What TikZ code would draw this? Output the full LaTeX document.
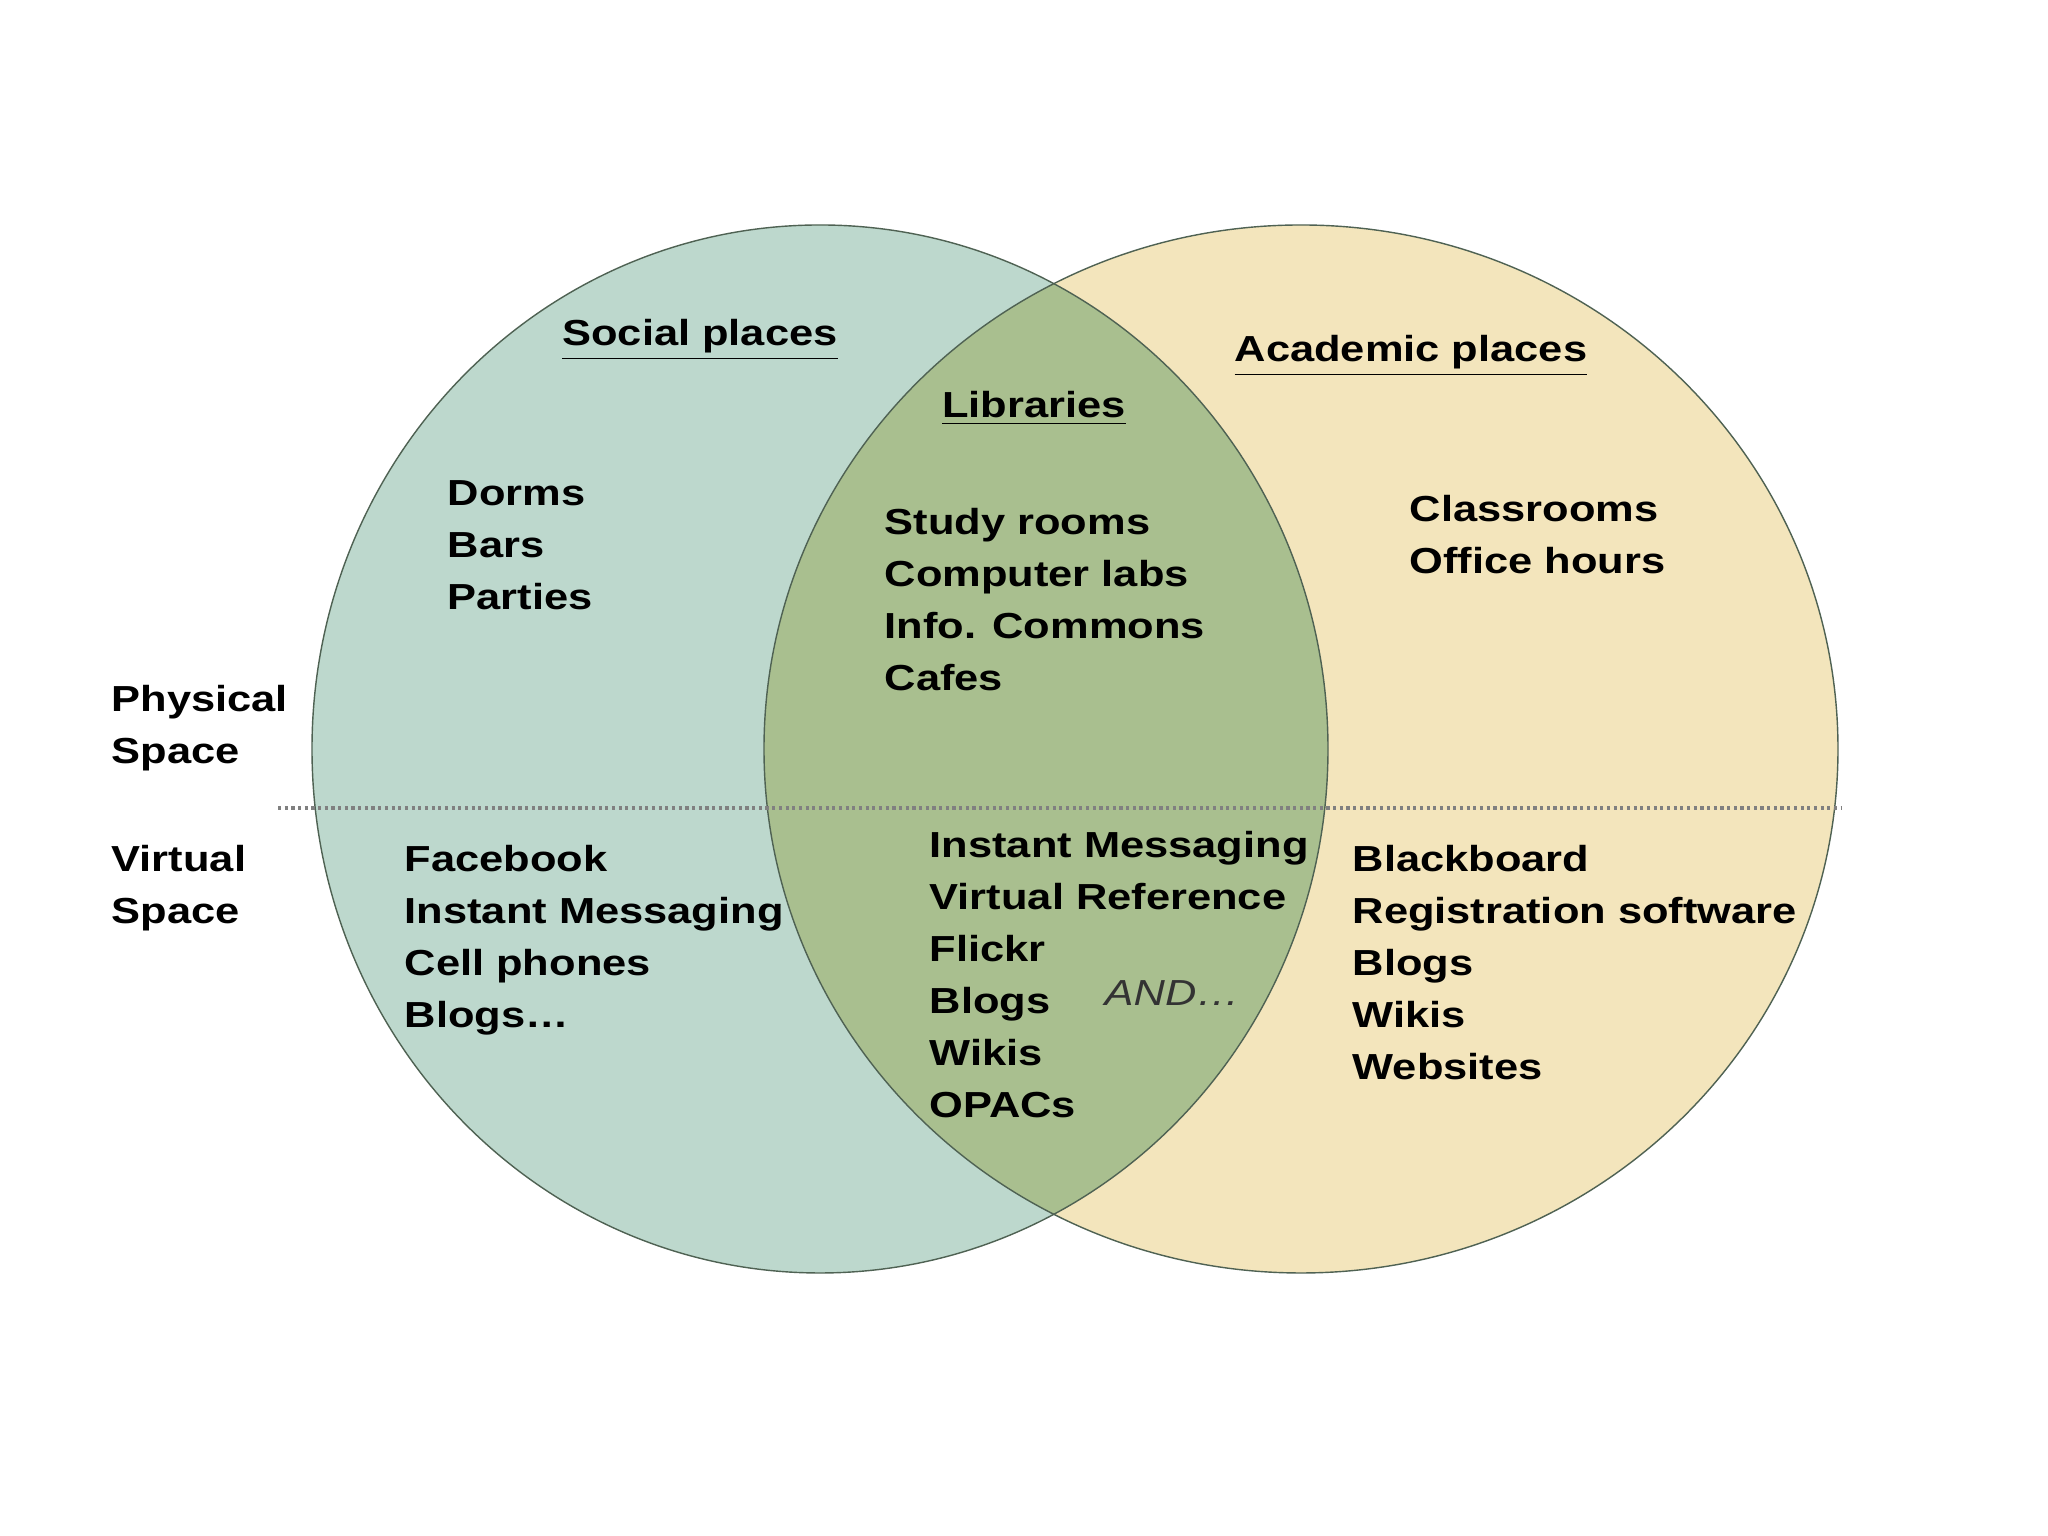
\documentclass[tikz,border=0pt]{standalone}
\usepackage{fontspec}
\newfontfamily\vennfont{Liberation Sans}[FakeStretch=1.2]
\definecolor{socialfill}{HTML}{BDD8CD}
\definecolor{academicfill}{HTML}{F3E5BC}
\definecolor{libraryfill}{HTML}{A9BF8F}
\definecolor{rimline}{HTML}{4F6253}
\newcommand{\headline}[1]{\underline{#1}}
\tikzset{
  itemlist/.style={anchor=north west, inner sep=0pt, align=left,
    font=\vennfont\bfseries\fontsize{10.3}{14.8}\selectfont},
  heading/.style={anchor=base, inner sep=0pt,
    font=\vennfont\bfseries\fontsize{10.3}{14.8}\selectfont}
}
\begin{document}
\begin{tikzpicture}
  \useasboundingbox (0,0) rectangle (20.48,15.36);
  \fill[white] (0,0) rectangle (20.48,15.36);

  % the two places
  \fill[socialfill] (8.20,7.87) ellipse [x radius=5.08, y radius=5.24];
  \fill[academicfill] (13.01,7.87) ellipse [x radius=5.37, y radius=5.24];
  \begin{scope}
    \clip (8.20,7.87) ellipse [x radius=5.08, y radius=5.24];
    \fill[libraryfill] (13.01,7.87) ellipse [x radius=5.37, y radius=5.24];
  \end{scope}
  \draw[rimline, thin] (8.20,7.87) ellipse [x radius=5.08, y radius=5.24];
  \draw[rimline, thin] (13.01,7.87) ellipse [x radius=5.37, y radius=5.24];

  % physical / virtual divider
  \coordinate (divleft) at (2.78,7.28);
  \coordinate (divright) at (18.42,7.28);
  \draw[gray, densely dotted, line width=0.9pt] (divleft) -- (divright);

  \node[heading] (social) at (7.00,11.90) {\headline{Social places}};
  \node[heading] (libraries) at (10.34,11.18) {\headline{Libraries}};
  \node[heading] (academic) at (14.11,11.74) {\headline{Academic places}};

  \node[itemlist] (physical) at (1.11,8.51) {Physical\\Space};
  \node[itemlist] (virtual) at (1.11,6.91) {Virtual\\Space};

  \node[itemlist] (socialphys) at (4.47,10.56) {Dorms\\Bars\\Parties};
  \node[itemlist] (libphys) at (8.84,10.28) {Study rooms\\Computer labs\\Info. Commons\\Cafes};
  \node[itemlist] (acadphys) at (14.09,10.41) {Classrooms\\Office hours};

  \node[itemlist] (socialvirt) at (4.04,6.91) {Facebook\\Instant Messaging\\Cell phones\\Blogs\ldots};
  \node[itemlist] (libvirt) at (9.29,7.05) {Instant Messaging\\Virtual Reference\\Flickr\\Blogs\\Wikis\\OPACs};
  \node[itemlist] (acadvirt) at (13.52,6.91) {Blackboard\\Registration software\\Blogs\\Wikis\\Websites};

  \node[anchor=base west, inner sep=0pt, text=black!80,
    font=\vennfont\itshape\fontsize{10.3}{14.8}\selectfont] (andmore) at (11.04,5.30) {AND\ldots};
\end{tikzpicture}
\end{document}
